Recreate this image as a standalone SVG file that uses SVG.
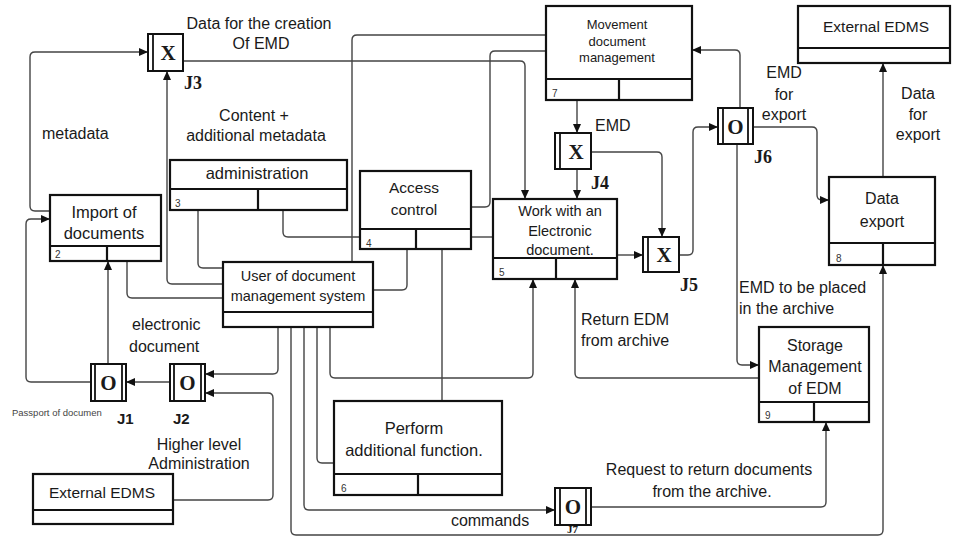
<svg xmlns="http://www.w3.org/2000/svg" width="953" height="537" viewBox="0 0 953 537">
  <defs>
    <marker id="arr" markerUnits="userSpaceOnUse" markerWidth="9" markerHeight="8" refX="9" refY="4" orient="auto">
      <path d="M0,0 L9,4 L0,8 z" fill="#111"/>
    </marker>
    <style>
      .box { fill: #fff; stroke: #111; stroke-width: 2.2; }
      .sep { fill: none; stroke: #111; stroke-width: 2.2; }
      .jn { fill: #fff; stroke: #111; stroke-width: 2; }
      .bar { fill: none; stroke: #111; stroke-width: 1.8; }
      .conn path { fill: none; stroke: #444; stroke-width: 1.4; stroke-linejoin: round; }
      .conn path.a { marker-end: url(#arr); }
      text { font-family: "Liberation Sans", Arial, sans-serif; fill: #1a1a1a; }
      .lbl { font-size: 16px; }
      .num { font-size: 10px; fill: #333; }
      .jx { font-family: "Liberation Serif", "Times New Roman", serif; font-weight: bold; font-size: 21px; text-anchor: middle; }
      .jl { font-family: "Liberation Serif", "Times New Roman", serif; font-weight: bold; font-size: 18px; }
      .js { font-weight: bold; font-size: 15px; }
      .c { text-anchor: middle; }
    </style>
  </defs>

  <rect width="953" height="537" fill="#fff"/>

  <!-- connectors -->
  <g id="connectors" class="conn">
    <path class="a" d="M50,211 H35 Q30,211 30,206 V57 Q30,52 35,52 H148"/>
    <path class="a" d="M91,382 H31 Q26,382 26,377 V224 Q26,219 31,219 H50"/>
    <path class="a" d="M108,364 V261"/>
    <path class="a" d="M170,382 H126"/>
    <path class="a" d="M278,327 V369 Q278,374 273,374 H205"/>
    <path class="a" d="M173,500 H268 Q273,500 273,495 V398 Q273,393 268,393 H205"/>
    <path d="M198,210 V263 Q198,268 203,268 H223"/>
    <path d="M283,210 V232 Q283,237 288,237 H360"/>
    <path d="M471,237 H493"/>
    <path class="a" d="M223,284 H172 Q167,284 167,279 V71"/>
    <path d="M127,261 V293 Q127,298 132,298 H223"/>
    <path d="M546,35 H357 Q352,35 352,40 V262"/>
    <path d="M546,51 H495 Q490,51 490,56 V202 Q490,207 485,207 H471"/>
    <path class="a" d="M183,61 H520 Q525,61 525,66 V199"/>
    <path class="a" d="M577,100 V133"/>
    <path class="a" d="M577,169 V199"/>
    <path class="a" d="M591,152 H657 Q662,152 662,157 V237"/>
    <path class="a" d="M617,255 H643"/>
    <path class="a" d="M679,255 H688 Q693,255 693,250 V132 Q693,127 698,127 H718"/>
    <path class="a" d="M740,108 V55 Q740,50 735,50 H692"/>
    <path class="a" d="M753,127 H812 Q817,127 817,132 V195 Q817,200 822,200 H829"/>
    <path class="a" d="M737,144 V360 Q737,365 742,365 H759"/>
    <path class="a" d="M883,177 V63"/>
    <path class="a" d="M759,378 H580 Q575,378 575,373 V279"/>
    <path class="a" d="M330,327 V373 Q330,378 335,378 H528 Q533,378 533,373 V279"/>
    <path d="M317,327 V458 Q317,463 322,463 H334"/>
    <path class="a" d="M304,327 V505 Q304,510 309,510 H555"/>
    <path class="a" d="M291,327 V530 Q291,535 296,535 H878 Q883,535 883,530 V265"/>
    <path d="M407,249 V285 Q407,290 402,290 H373"/>
    <path d="M442,249 V401"/>
    <path class="a" d="M591,507 H821 Q826,507 826,502 V422"/>
  </g>

  <!-- function blocks -->
  <g id="import">
    <rect class="box" x="50" y="195" width="111" height="66"/>
    <path class="sep" d="M50,246 H161 M107,246 V261"/>
    <text class="lbl c" x="104" y="218" style="font-size:16.5px">Import of</text>
    <text class="lbl c" x="104" y="239" style="font-size:16.5px">documents</text>
    <text class="num" x="55" y="258">2</text>
  </g>

  <g id="administration">
    <rect class="box" x="170" y="160" width="177" height="50"/>
    <path class="sep" d="M170,189 H347 M258,189 V210"/>
    <text class="lbl c" x="257" y="179" style="font-size:16.5px">administration</text>
    <text class="num" x="175" y="207">3</text>
  </g>

  <g id="access">
    <rect class="box" x="360" y="171" width="111" height="78"/>
    <path class="sep" d="M360,229 H471 M416,229 V249"/>
    <text class="lbl c" x="414" y="193" style="font-size:15.5px">Access</text>
    <text class="lbl c" x="414" y="215" style="font-size:15.5px">control</text>
    <text class="num" x="366" y="247">4</text>
  </g>

  <g id="user">
    <rect class="box" x="223" y="262" width="150" height="65"/>
    <path class="sep" d="M223,312 H373"/>
    <text class="lbl c" x="298" y="281" style="font-size:14.5px">User of document</text>
    <text class="lbl c" x="298" y="301" style="font-size:14.5px">management system</text>
  </g>

  <g id="work">
    <rect class="box" x="493" y="199" width="124" height="80"/>
    <path class="sep" d="M493,258 H617 M556,258 V279"/>
    <text class="lbl c" x="560" y="216" style="font-size:14.5px">Work with an</text>
    <text class="lbl c" x="560" y="236" style="font-size:14.5px">Electronic</text>
    <text class="lbl c" x="560" y="255" style="font-size:14.5px">document.</text>
    <text class="num" x="499" y="276">5</text>
  </g>

  <g id="movement">
    <rect class="box" x="546" y="6" width="146" height="94"/>
    <path class="sep" d="M546,79 H692 M619,79 V100"/>
    <text class="lbl c" x="617" y="29" style="font-size:13px">Movement</text>
    <text class="lbl c" x="617" y="46" style="font-size:13px">document</text>
    <text class="lbl c" x="617" y="62" style="font-size:13px">management</text>
    <text class="num" x="552" y="97">7</text>
  </g>

  <g id="ext-top">
    <rect class="box" x="798" y="6" width="152" height="57"/>
    <path class="sep" d="M798,48 H950"/>
    <text class="lbl c" x="876" y="32" style="font-size:15.5px">External EDMS</text>
  </g>

  <g id="export">
    <rect class="box" x="829" y="177" width="106" height="88"/>
    <path class="sep" d="M829,243 H935 M883,243 V265"/>
    <text class="lbl c" x="882" y="204" style="font-size:16px">Data</text>
    <text class="lbl c" x="882" y="227" style="font-size:16px">export</text>
    <text class="num" x="836" y="262">8</text>
  </g>

  <g id="storage">
    <rect class="box" x="759" y="327" width="110" height="95"/>
    <path class="sep" d="M759,402 H869 M814,402 V422"/>
    <text class="lbl c" x="815" y="351" style="font-size:16px">Storage</text>
    <text class="lbl c" x="815" y="372" style="font-size:16px">Management</text>
    <text class="lbl c" x="815" y="394" style="font-size:16px">of EDM</text>
    <text class="num" x="765" y="419">9</text>
  </g>

  <g id="perform">
    <rect class="box" x="334" y="401" width="168" height="94"/>
    <path class="sep" d="M334,474 H502 M418,474 V495"/>
    <text class="lbl c" x="414" y="434" style="font-size:16.5px">Perform</text>
    <text class="lbl c" x="414" y="456" style="font-size:16.5px">additional function.</text>
    <text class="num" x="341" y="492">6</text>
  </g>

  <g id="ext-bottom">
    <rect class="box" x="33" y="474" width="140" height="50"/>
    <path class="sep" d="M33,510 H173"/>
    <text class="lbl c" x="102" y="498" style="font-size:15.5px">External EDMS</text>
  </g>

  <!-- junctions -->
  <g id="j3">
    <rect class="jn" x="148" y="34" width="35" height="37"/>
    <path class="bar" d="M153,34 V71"/>
    <text class="jx" x="168" y="60">X</text>
    <text class="jl" x="184" y="89">J3</text>
  </g>
  <g id="j4">
    <rect class="jn" x="555" y="133" width="36" height="36"/>
    <path class="bar" d="M560,133 V169"/>
    <text class="jx" x="576" y="159">X</text>
    <text class="jl" x="591" y="189">J4</text>
  </g>
  <g id="j5">
    <rect class="jn" x="643" y="237" width="36" height="35"/>
    <path class="bar" d="M648,237 V272"/>
    <text class="jx" x="664" y="262">X</text>
    <text class="jl" x="680" y="291">J5</text>
  </g>
  <g id="j6">
    <rect class="jn" x="718" y="108" width="35" height="36"/>
    <path class="bar" d="M723,108 V144 M748,108 V144"/>
    <text class="jx" x="735.5" y="134">O</text>
    <text class="jl" x="754" y="163">J6</text>
  </g>
  <g id="j1">
    <rect class="jn" x="91" y="364" width="35" height="37"/>
    <path class="bar" d="M95,364 V401 M122,364 V401"/>
    <text class="jx" x="108.5" y="390">O</text>
    <text class="js" x="117" y="424">J1</text>
  </g>
  <g id="j2">
    <rect class="jn" x="170" y="364" width="35" height="37"/>
    <path class="bar" d="M174,364 V401 M201,364 V401"/>
    <text class="jx" x="187.5" y="390">O</text>
    <text class="js" x="173" y="424">J2</text>
  </g>
  <g id="j7">
    <rect class="jn" x="555" y="488" width="36" height="37"/>
    <path class="bar" d="M560,488 V525 M586,488 V525"/>
    <text class="jx" x="573" y="514">O</text>
    <text class="jl" x="567" y="533" style="font-size:11px">J7</text>
  </g>

  <!-- flow labels -->
  <g id="labels">
    <text class="lbl c" x="259" y="29">Data for the creation</text>
    <text class="lbl c" x="261" y="49">Of EMD</text>
    <text class="lbl" x="42" y="139">metadata</text>
    <text class="lbl c" x="254" y="121">Content +</text>
    <text class="lbl c" x="256" y="141">additional metadata</text>
    <text class="lbl" x="595" y="131">EMD</text>
    <text class="lbl c" x="784" y="78">EMD</text>
    <text class="lbl c" x="784" y="100">for</text>
    <text class="lbl c" x="784" y="120">export</text>
    <text class="lbl c" x="918" y="99">Data</text>
    <text class="lbl c" x="918" y="120">for</text>
    <text class="lbl c" x="918" y="140">export</text>
    <text class="lbl" x="739" y="293">EMD to be placed</text>
    <text class="lbl" x="739" y="314">in the archive</text>
    <text class="lbl" x="581" y="325">Return EDM</text>
    <text class="lbl" x="581" y="346">from archive</text>
    <text class="lbl" x="132" y="330">electronic</text>
    <text class="lbl" x="129" y="352">document</text>
    <text x="12" y="416" style="font-size:9.5px;fill:#444">Passport of documen</text>
    <text class="lbl c" x="199" y="450">Higher level</text>
    <text class="lbl c" x="199" y="469">Administration</text>
    <text class="lbl c" x="709" y="475">Request to return documents</text>
    <text class="lbl c" x="712" y="497">from the archive.</text>
    <text class="lbl c" x="490" y="526">commands</text>
  </g>
</svg>
